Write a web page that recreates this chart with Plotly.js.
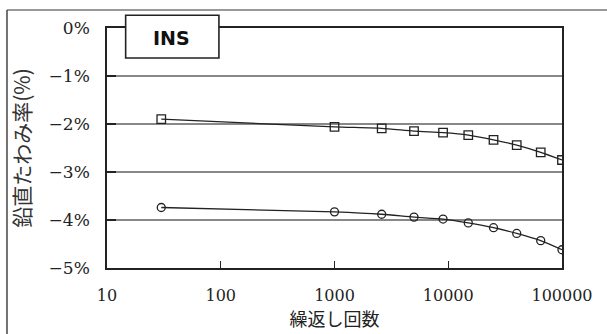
<!DOCTYPE html>
<html>
<head>
<meta charset="utf-8">
<script src="https://cdn.plot.ly/plotly-3.0.1.min.js"></script>
<style>html,body{margin:0;padding:0;background:#fff;}#chart{width:607px;height:334px;}</style>
</head>
<body>
<div id="chart"></div>
<script>
// Data
const cycles = [30, 1000, 2600, 5000, 9000, 15000, 25000, 40000, 65000, 100000];
const seriesSquare = [-1.90, -2.06, -2.09, -2.15, -2.18, -2.23, -2.33, -2.44, -2.59, -2.75];
const seriesCircle = [-3.74, -3.83, -3.88, -3.94, -3.98, -4.06, -4.16, -4.28, -4.43, -4.62];
const xTickVals = [10, 100, 1000, 10000, 100000];
const xTickText = ['10', '100', '1000', '10000', '100000'];
const yTickVals = [0, -1, -2, -3, -4, -5];
const yTickText = ['0%', '\u22121%', '\u22122%', '\u22123%', '\u22124%', '\u22125%'];
const boxLabel = 'INS';
const xTitle = '繰返し回数';
const yTitle = '鉛直たわみ率(%)';

const lineColor = '#222';
const traces = [
  {x: cycles, y: seriesSquare, type: 'scatter', mode: 'lines+markers',
   line: {color: lineColor, width: 1.3, shape: 'spline', smoothing: 0.6},
   marker: {symbol: 'square-open', size: 8.5, color: lineColor, line: {width: 1.3, color: lineColor}}},
  {x: cycles, y: seriesCircle, type: 'scatter', mode: 'lines+markers',
   line: {color: lineColor, width: 1.3, shape: 'spline', smoothing: 0.6},
   marker: {symbol: 'circle-open', size: 8, color: lineColor, line: {width: 1.3, color: lineColor}}}
];

const xTickFont = {family: 'DejaVu Serif', size: 16, color: '#222'};
const yTickFont = {family: 'DejaVu Serif', size: 17, color: '#222'};
const layout = {
  width: 607, height: 334,
  margin: {l: 107, r: 45, t: 28, b: 66},
  paper_bgcolor: '#fff', plot_bgcolor: '#fff',
  showlegend: false,
  font: {family: 'DejaVu Serif', size: 17, color: '#222'},
  xaxis: {
    type: 'log', range: [1, 5],
    tickmode: 'array', tickvals: xTickVals, ticktext: xTickText,
    showgrid: false, zeroline: false,
    showline: true, linecolor: lineColor, linewidth: 1.8, mirror: true,
    ticks: 'inside', ticklen: 7, tickwidth: 1.2, tickcolor: lineColor,
    tickfont: xTickFont, ticklabelstandoff: 12,
    title: {text: xTitle, font: {family: 'Noto Sans CJK JP', size: 18, color: '#222'}, standoff: 8}
  },
  yaxis: {
    range: [-5, 0], tickmode: 'array', tickvals: yTickVals, ticktext: yTickText,
    showgrid: true, gridcolor: '#888', gridwidth: 1.3, zeroline: false,
    showline: true, linecolor: lineColor, linewidth: 1.8, mirror: true,
    ticks: 'inside', ticklen: 9, tickwidth: 1.2, tickcolor: lineColor,
    tickfont: yTickFont, ticklabelstandoff: 12,
    title: {text: yTitle, font: {family: 'Noto Sans CJK JP', size: 21, color: '#333'}, standoff: 12}
  },
  shapes: [
    {type: 'line', xref: 'paper', yref: 'paper', x0: -0.2198, x1: 1.2, y0: 1.075, y1: 1.075,
     line: {color: '#777', width: 1.5}},
    {type: 'line', xref: 'paper', yref: 'paper', x0: -0.2198, x1: -0.2198, y0: -0.4, y1: 1.075,
     line: {color: '#444', width: 1.5}},
    {type: 'rect', xref: 'paper', yref: 'paper', x0: 0.041, x1: 0.246, y0: 0.875, y1: 1.053,
     line: {color: lineColor, width: 1.6}, fillcolor: '#fff', layer: 'above'}
  ],
  annotations: [
    {xref: 'paper', yref: 'paper', x: 0.141, y: 0.957, text: boxLabel, showarrow: false,
     xanchor: 'center', yanchor: 'middle',
     font: {family: 'DejaVu Sans', size: 19, weight: 'bold', color: '#111'}}
  ]
};

Plotly.newPlot('chart', traces, layout, {displayModeBar: false, staticPlot: true});
</script>
</body>
</html>
